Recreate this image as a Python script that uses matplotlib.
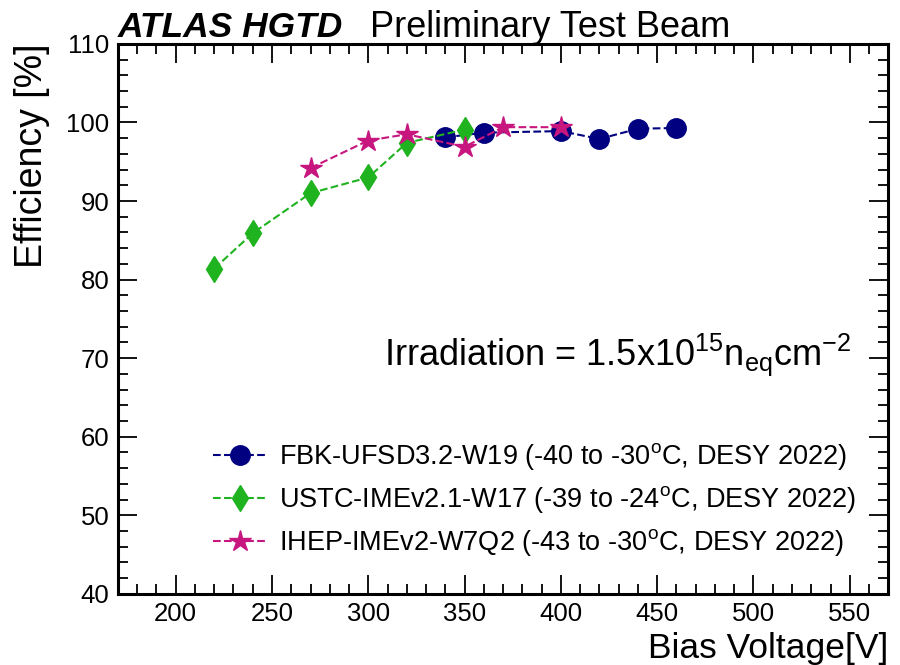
import numpy as np
import matplotlib
matplotlib.use("Agg")
import matplotlib.pyplot as plt
from matplotlib.ticker import MultipleLocator

plt.rcParams['font.family'] = ['Liberation Sans', 'DejaVu Sans']
plt.rcParams['mathtext.fontset'] = 'custom'
plt.rcParams['mathtext.rm'] = 'Liberation Sans'
plt.rcParams['mathtext.it'] = 'Liberation Sans:italic'

# data
fbk_v = [340, 360, 400, 420, 440, 460]
fbk_eff = [98.1, 98.7, 98.9, 97.9, 99.2, 99.3]

ustc_v = [220, 240, 270, 300, 320, 350]
ustc_eff = [81.4, 85.9, 91.0, 93.0, 97.4, 99.1]

ihep_v = [270, 300, 320, 350, 370, 400]
ihep_eff = [94.2, 97.7, 98.5, 96.9, 99.4, 99.4]

labels = [
    r'FBK-UFSD3.2-W19 (-40 to -30$^{\rm o}$C, DESY 2022)',
    r'USTC-IMEv2.1-W17 (-39 to -24$^{\rm o}$C, DESY 2022)',
    r'IHEP-IMEv2-W7Q2 (-43 to -30$^{\rm o}$C, DESY 2022)',
]

fig = plt.figure(figsize=(9, 6.65), dpi=100)
ax = fig.add_axes([0.131, 0.107, 0.856, 0.827])

ax.plot(fbk_v, fbk_eff, ls='--', lw=1.5, color='#000080', marker='o',
        ms=14, label=labels[0])
ax.plot(ustc_v, ustc_eff, ls='--', lw=1.5, color='#1fb31f', marker='d',
        ms=13, label=labels[1])
ax.plot(ihep_v, ihep_eff, ls='--', lw=1.5, color='#c8167f', marker='*',
        ms=16, label=labels[2])

ax.set_xlim(170, 570)
ax.set_ylim(40, 110)
ax.xaxis.set_major_locator(MultipleLocator(50))
ax.xaxis.set_minor_locator(MultipleLocator(10))
ax.yaxis.set_major_locator(MultipleLocator(10))
ax.yaxis.set_minor_locator(MultipleLocator(2))
ax.tick_params(which='both', direction='in', top=True, right=True,
               labelsize=18.5, width=1.3)
ax.tick_params(which='major', length=14, pad=6)
ax.tick_params(which='minor', length=7)
for s in ax.spines.values():
    s.set_linewidth(2.2)

ax.set_xlabel('Bias Voltage[V]', fontsize=25.5, loc='right')
ax.set_ylabel('Efficiency [%]', fontsize=27, loc='top')
ax.yaxis.set_label_coords(-0.088, 1.0)

fig.text(0.131, 0.944, 'ATLAS HGTD', fontsize=25.5, fontweight='bold',
         fontstyle='italic', va='baseline', ha='left')
fig.text(0.411, 0.944, 'Preliminary Test Beam', fontsize=26,
         va='baseline', ha='left')

ax.text(0.952, 0.435, r'Irradiation = 1.5x10$^{15}$n$_{\rm eq}$cm$^{-2}$',
        transform=ax.transAxes, fontsize=26, ha='right', va='center')

ax.legend(loc='lower left', bbox_to_anchor=(0.095, 0.025), frameon=False,
          fontsize=19.5, handlelength=2.0, handletextpad=0.45,
          labelspacing=0.45, borderpad=0.3)

fig.savefig('out.png', dpi=100)
